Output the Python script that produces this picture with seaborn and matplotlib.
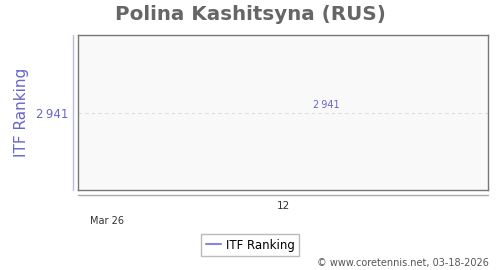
import matplotlib
matplotlib.use("Agg")
import matplotlib.pyplot as plt
import seaborn as sns
import pandas as pd
from matplotlib.lines import Line2D

sns.set_theme(style="white")
plt.rcParams['font.family'] = ['DejaVu Sans']

weeks = [12]
rankings = [2941]
series_name = "ITF Ranking"
title = "Polina Kashitsyna (RUS)"
month_label = "Mar 26"
credit = "\u00a9 www.coretennis.net, 03-18-2026"

df = pd.DataFrame({"week": weeks, "rank": rankings})

fig = plt.figure(figsize=(5, 2.7), dpi=100)
ax = fig.add_axes([0.156, 0.296, 0.82, 0.574])
ax.set_facecolor("#f9f9f9")
sns.lineplot(data=df, x="week", y="rank", ax=ax, color="#8888dd", legend=False)

ax.set_xlim(weeks[0] - 1, weeks[0] + 1)
ax.set_ylim(rankings[0] + 1, rankings[0] - 1)
ax.set_xticks(weeks)
ax.set_xticklabels([str(w) for w in weeks])
ax.set_yticks(rankings)
ax.set_yticklabels([f"{r:,}".replace(",", "\u2009") for r in rankings])
ax.tick_params(axis="x", length=0, labelsize=7.5, colors="#333333", pad=8)
ax.tick_params(axis="y", length=6, width=0.8, color="#bbbbdd", labelsize=8.5,
               labelcolor="#6666cc", pad=1)
ax.yaxis.grid(True, color="#dddddd", linestyle=(0, (3, 3)), linewidth=0.8)
for s in ax.spines.values():
    s.set_color("#777777")
    s.set_linewidth(1.0)
ax.set_xlabel("")
ax.set_ylabel(series_name, color="#6666cc", fontsize=11, labelpad=5)

for w, r in zip(weeks, rankings):
    ax.annotate(f"{r:,}".replace(",", "\u2009"), (w, r), xytext=(31, 2),
                textcoords="offset points", ha="center", va="bottom",
                fontsize=7, color="#6666cc")

# left blue axis line and bottom navigator line
fig.add_artist(Line2D([73/500, 73/500], [1-35/270, 1-190/270], color="#bbbbdd", lw=1.0))
fig.add_artist(Line2D([78/500, 488/500], [1-195/270, 1-195/270], color="#aaaaaa", lw=1.0))

fig.text(0.5, 1-14/270, title, ha="center", va="center", fontsize=14.3,
         fontweight="bold", color="#666666")
fig.text(90/500, 1-221/270, month_label, ha="left", va="center", fontsize=7, color="#333333")
fig.text(489/500, 1-263/270, credit, ha="right", va="center", fontsize=7, color="#555555")

handle = Line2D([], [], color="#8888dd", lw=1.5)
leg = fig.legend([handle], [series_name], loc="center", bbox_to_anchor=(0.5, 1-245/270),
                 fontsize=8.5, frameon=True, fancybox=False, handlelength=1.3,
                 handletextpad=0.4, borderpad=0.35, borderaxespad=0, labelcolor="black")
leg.get_frame().set_edgecolor("#aaaaaa")
leg.get_frame().set_linewidth(1.0)

fig.savefig("out.png", dpi=100)
